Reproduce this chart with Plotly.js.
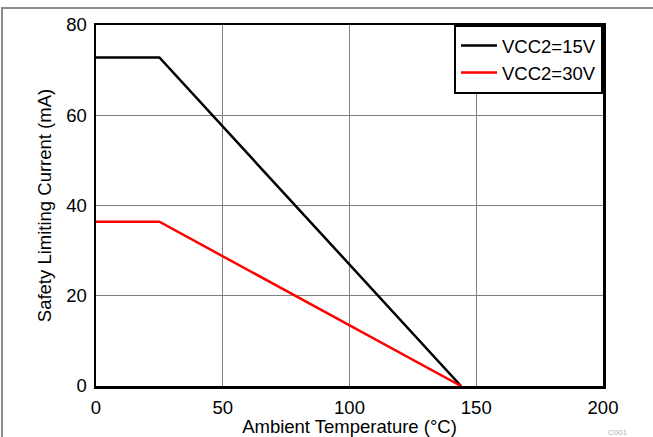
<!DOCTYPE html>
<html>
<head>
<meta charset="utf-8">
<script src="https://cdn.plot.ly/plotly-3.0.1.min.js"></script>
<style>
html,body{margin:0;padding:0;background:#fff;}
#frame{position:absolute;left:1px;top:7px;width:700px;height:500px;border-top:2px solid #8a8a8a;border-left:2px solid #8a8a8a;box-sizing:border-box;pointer-events:none;}
#chart{position:absolute;left:0;top:0;width:653px;height:437px;}
</style>
</head>
<body>
<div id="chart"></div>
<div id="frame"></div>
<script>
const temps15 = [0, 25, 144];
const current15 = [72.8, 72.8, 0];
const temps30 = [0, 25, 144];
const current30 = [36.4, 36.4, 0];
const seriesNames = ["VCC2=15V", "VCC2=30V"];
const xTicks = [0, 50, 100, 150, 200];
const yTicks = [0, 20, 40, 60, 80];

const traces = [
  {x: temps15, y: current15, name: seriesNames[0], mode: "lines", line: {color: "#000000", width: 2.5}},
  {x: temps30, y: current30, name: seriesNames[1], mode: "lines", line: {color: "#ff0000", width: 2.5}}
];

const FAM = "Liberation Sans, Arial, sans-serif";
const fnt = {family: FAM, size: 18.5, color: "#000"};

const layout = {
  width: 653, height: 437,
  margin: {l: 96, r: 50, t: 25, b: 51},
  paper_bgcolor: "#fff", plot_bgcolor: "#fff",
  font: fnt,
  showlegend: true,
  legend: {x: 1, y: 1, xanchor: "right", yanchor: "top", bgcolor: "#fff", bordercolor: "#000", borderwidth: 2,
           font: {family: FAM, size: 18.5, color: "#000"}, tracegroupgap: 0, itemwidth: 36},
  xaxis: {
    range: [0, 200], tickvals: xTicks, ticktext: xTicks.map(String),
    showgrid: true, gridcolor: "#808080", gridwidth: 1, zeroline: false,
    showline: true, linecolor: "#000", linewidth: 2.5, mirror: true,
    ticks: "", ticklen: 0, tickfont: fnt, ticklabelstandoff: 3,
    automargin: false,
    title: {text: "Ambient Temperature (°C)", font: {family: FAM, size: 18.5}, standoff: 1}
  },
  yaxis: {
    range: [0, 80], tickvals: yTicks, ticktext: yTicks.map(String),
    showgrid: true, gridcolor: "#808080", gridwidth: 1, zeroline: false,
    showline: true, linecolor: "#000", linewidth: 2.5, mirror: true,
    ticks: "", ticklen: 0, tickfont: fnt, ticklabelstandoff: 3,
    automargin: false,
    title: {text: "Safety Limiting Current (mA)", font: {family: FAM, size: 18.5}, standoff: 10}
  },
  annotations: [
    {text: "C001", xref: "paper", yref: "paper", x: 1.03, y: -0.13, xanchor: "center", yanchor: "middle",
     showarrow: false, font: {family: FAM, size: 8, color: "#b0b0b0"}}
  ]
};

Plotly.newPlot("chart", traces, layout, {displayModeBar: false, staticPlot: true});
</script>
</body>
</html>
